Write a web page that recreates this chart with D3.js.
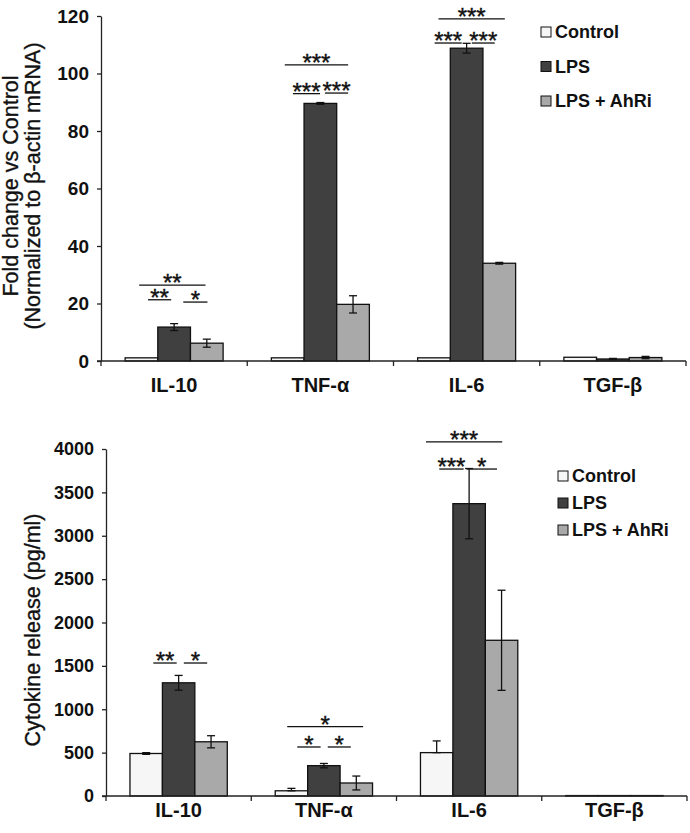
<!DOCTYPE html>
<html>
<head>
<meta charset="utf-8">
<script src="https://cdn.jsdelivr.net/npm/d3@7"></script>
<style>
  body { margin: 0; background: #fff; }
  svg { display: block; font-family: "Liberation Sans", Arial, sans-serif; }
</style>
</head>
<body>
<svg id="chart" width="690" height="833"></svg>
<script>
// ---------- data ----------
const categories = ["IL-10", "TNF-α", "IL-6", "TGF-β"];
const seriesNames = ["Control", "LPS", "LPS + AhRi"];
const seriesColors = ["#f6f6f6", "#404040", "#a9a9a9"];

// Top panel: fold change (mRNA)
const mrnaControl = [1.1, 1.1, 1.1, 1.3];
const mrnaLPS = [11.8, 89.6, 108.8, 0.7];
const mrnaAhRi = [6.2, 19.7, 34.0, 1.2];
const mrnaErrControl = [0, 0, 0, 0];
const mrnaErrLPS = [1.2, 0.3, 1.7, 0.2];
const mrnaErrAhRi = [1.4, 3.0, 0.3, 0.4];
const mrnaTicks = [0, 20, 40, 60, 80, 100, 120];

// Bottom panel: cytokine release (pg/ml)
const protControl = [490, 60, 500, 5];
const protLPS = [1305, 350, 3370, 5];
const protAhRi = [625, 150, 1795, 5];
const protErrUpControl = [10, 28, 135, 0];
const protErrDownControl = [10, 0, 0, 0];
const protErrLPS = [85, 25, 405, 0];
const protErrAhRi = [70, 80, 577, 0];
const protTicks = [0, 500, 1000, 1500, 2000, 2500, 3000, 3500, 4000];

// significance brackets: [category, from (bar units), to (bar units), y value, label]
const mrnaSig = [
  [0, 0.43, 2.46, 26.4, "**"], [0, 0.70, 1.41, 21.3, "**"], [0, 1.78, 2.52, 20.5, "*"],
  [1, 0.41, 2.35, 103, "***"], [1, 0.66, 1.49, 93, "***"], [1, 1.64, 2.35, 93.2, "***"],
  [2, 0.64, 2.67, 119, "***"], [2, 0.52, 1.35, 110.6, "***"], [2, 1.66, 2.36, 110.6, "***"]
];
const protSig = [
  [0, 0.72, 1.44, 1533, "**"], [0, 1.66, 2.38, 1533, "*"],
  [1, 0.37, 2.71, 799, "*"], [1, 0.68, 1.40, 565, "*"], [1, 1.62, 2.33, 565, "*"],
  [2, 0.17, 2.52, 4081, "***"], [2, 0.58, 1.33, 3769, "***"], [2, 1.42, 2.36, 3769, "*"]
];

// ---------- drawing ----------
const svg = d3.select("#chart");

function panel(opts) {
  const g = svg.append("g");
  const x0 = d3.scaleBand().domain(categories).range([opts.left, opts.right]).padding(0);
  const bw = x0.bandwidth();
  const x1 = d3.scaleBand().domain(d3.range(3)).range([bw * 0.165, bw * 0.835]).padding(0);
  const y = d3.scaleLinear().domain(opts.domain).range([opts.bottom, opts.top]);

  // y axis
  const yAxis = d3.axisLeft(y).tickValues(opts.ticks).tickFormat(d3.format("d"))
    .tickSize(4).tickPadding(8).tickSizeOuter(0);
  const ya = g.append("g").attr("transform", `translate(${opts.left},0)`).call(yAxis);
  ya.select(".domain").attr("stroke", "#222").attr("stroke-width", 1.3);
  ya.selectAll(".tick line").attr("stroke", "#222").attr("stroke-width", 1.3);
  ya.selectAll("text").attr("font-size", opts.tickFont).attr("font-weight", "bold").attr("fill", "#111");

  // bars
  const vals = opts.values;
  categories.forEach((c, ci) => {
    const gx = x0(c);
    for (let s = 0; s < 3; s++) {
      const v = vals[s][ci];
      g.append("rect")
        .attr("x", gx + x1(s))
        .attr("y", y(v))
        .attr("width", x1.bandwidth())
        .attr("height", y(0) - y(v))
        .attr("fill", seriesColors[s])
        .attr("stroke", "#111")
        .attr("stroke-width", 1.3);
    }
  });

  // error bars
  categories.forEach((c, ci) => {
    for (let s = 0; s < 3; s++) {
      const v = vals[s][ci];
      const up = opts.errUp[s][ci], dn = opts.errDown[s][ci];
      if (!up && !dn) continue;
      const cx = x0(c) + x1(s) + x1.bandwidth() / 2;
      const yt = y(v + up), yb = y(v - dn);
      g.append("line").attr("x1", cx).attr("x2", cx).attr("y1", yt).attr("y2", yb)
        .attr("stroke", "#111").attr("stroke-width", 1.3);
      [yt, yb].forEach(yy => g.append("line").attr("x1", cx - 4).attr("x2", cx + 4)
        .attr("y1", yy).attr("y2", yy).attr("stroke", "#111").attr("stroke-width", 1.3));
    }
  });

  // x axis line + boundary ticks
  g.append("line").attr("x1", opts.left - 4).attr("x2", opts.right).attr("y1", y(0)).attr("y2", y(0))
    .attr("stroke", "#222").attr("stroke-width", 1.3);
  const bounds = categories.map(c => x0(c)).concat([x0.range()[1]]);
  bounds.forEach(bx => g.append("line").attr("x1", bx).attr("x2", bx)
    .attr("y1", y(0)).attr("y2", y(0) + 5).attr("stroke", "#222").attr("stroke-width", 1.3));
  categories.forEach(c => g.append("text")
    .attr("x", x0(c) + bw / 2).attr("y", opts.labelY)
    .attr("text-anchor", "middle").attr("font-size", 20).attr("font-weight", "bold")
    .attr("fill", "#111").text(c));

  // significance
  const unit = x1.bandwidth();
  opts.sig.forEach(([ci, a, b, yv, lab]) => {
    const base = x0(categories[ci]) + x1(0);
    const xa = base + a * unit, xb = base + b * unit;
    const yy = y(yv);
    g.append("line").attr("x1", xa).attr("x2", xb).attr("y1", yy).attr("y2", yy)
      .attr("stroke", "#111").attr("stroke-width", 1.3);
    g.append("text").attr("x", (xa + xb) / 2).attr("y", yy + 6)
      .attr("text-anchor", "middle").attr("font-size", 24).attr("fill", "#111")
      .attr("stroke", "#111").attr("stroke-width", 0.4).text(lab);
  });

  // y title
  const tg = g.append("g").attr("transform", `translate(${opts.titleX},${opts.titleY}) rotate(-90)`);
  opts.title.forEach((t, i) => tg.append("text")
    .attr("x", 0).attr("y", i * 22).attr("text-anchor", "middle")
    .attr("font-size", 21.5).attr("fill", "#111")
    .attr("stroke", "#111").attr("stroke-width", 0.35).text(t));

  // legend
  seriesNames.forEach((n, i) => {
    const ly = opts.legY + i * opts.legStep;
    g.append("rect").attr("x", opts.legX).attr("y", ly - 11).attr("width", 10).attr("height", 10)
      .attr("fill", seriesColors[i]).attr("stroke", "#111").attr("stroke-width", 1);
    g.append("text").attr("x", opts.legX + 14).attr("y", ly).attr("font-size", 18)
      .attr("font-weight", "bold").attr("fill", "#111").text(n);
  });
}

panel({
  left: 101, right: 686, top: 16, bottom: 361, domain: [0, 120], ticks: mrnaTicks, tickFont: 19,
  values: [mrnaControl, mrnaLPS, mrnaAhRi],
  errUp: [mrnaErrControl, mrnaErrLPS, mrnaErrAhRi],
  errDown: [mrnaErrControl, mrnaErrLPS, mrnaErrAhRi],
  labelY: 392, sig: mrnaSig,
  title: ["Fold change vs Control", "(Normalized to β-actin mRNA)"], titleX: 18, titleY: 186,
  legX: 541, legY: 38, legStep: 34.5
});

panel({
  left: 106, right: 687, top: 449, bottom: 796, domain: [0, 4000], ticks: protTicks, tickFont: 18,
  values: [protControl, protLPS, protAhRi],
  errUp: [protErrUpControl, protErrLPS, protErrAhRi],
  errDown: [protErrDownControl, protErrLPS, protErrAhRi],
  labelY: 817, sig: protSig,
  title: ["Cytokine release (pg/ml)"], titleX: 40, titleY: 630,
  legX: 558, legY: 482, legStep: 27
});
</script>
</body>
</html>
